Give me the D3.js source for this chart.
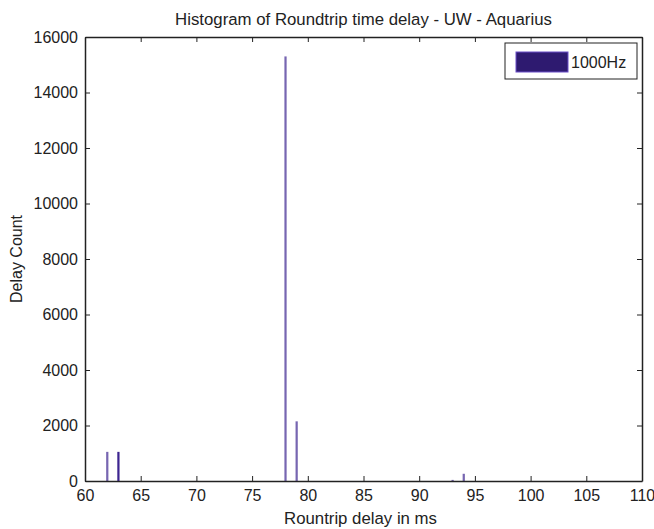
<!DOCTYPE html>
<html>
<head>
<meta charset="utf-8">
<script src="https://cdn.jsdelivr.net/npm/d3@7"></script>
<style>
  body { margin: 0; background: #fff; }
  text { font-family: "Liberation Sans", Arial, sans-serif; fill: #222; }
</style>
</head>
<body>
<div id="chart"></div>
<script>
// histogram bins (ms) and counts
const delays = [62, 63, 78, 79, 93, 94];
const counts = [1050, 1050, 15300, 2150, 40, 260];
const xTicks = [60, 65, 70, 75, 80, 85, 90, 95, 100, 105, 110];
const yTicks = [0, 2000, 4000, 6000, 8000, 10000, 12000, 14000, 16000];
const seriesName = "1000Hz";

const W = 654, H = 529;
const margin = { left: 85, right: 12, top: 37, bottom: 48 };
const width = W - margin.left - margin.right;
const height = H - margin.top - margin.bottom;

const svg = d3.select("#chart").append("svg")
  .attr("width", W)
  .attr("height", H);

const g = svg.append("g")
  .attr("transform", `translate(${margin.left},${margin.top})`);

const x = d3.scaleLinear().domain([60, 110]).range([0, width]);
const y = d3.scaleLinear().domain([0, 16000]).range([height, 0]);

const barColor = "#3d2590";
const barW = x(60.2) - x(60);

// bars
g.selectAll(".bar")
  .data(delays)
  .enter()
  .append("rect")
    .attr("x", (d) => x(d) - barW / 2)
    .attr("y", (d, i) => y(counts[i]))
    .attr("width", barW)
    .attr("height", (d, i) => height - y(counts[i]))
    .attr("fill", barColor)
    .attr("fill-opacity", (d, i) => i === 1 ? 1 : 0.7);

// axes with inward ticks, mirrored on top/right
const tickLen = 5;
const fmt = d3.format("d");
const xAxis = d3.axisBottom(x).tickValues(xTicks).tickFormat(fmt).tickSizeInner(-tickLen).tickSizeOuter(0).tickPadding(9);
const yAxis = d3.axisLeft(y).tickValues(yTicks).tickFormat(fmt).tickSizeInner(-tickLen).tickSizeOuter(0).tickPadding(7);

g.append("g")
  .attr("transform", `translate(0,${height})`)
  .call(xAxis)
  .call(a => a.selectAll("text").attr("font-size", 16).style("font-family", null));

g.append("g")
  .call(yAxis)
  .call(a => a.selectAll("text").attr("font-size", 16).style("font-family", null));

g.append("g")
  .call(d3.axisTop(x).tickValues(xTicks).tickFormat("").tickSizeInner(-tickLen).tickSizeOuter(0));

g.append("g")
  .attr("transform", `translate(${width},0)`)
  .call(d3.axisRight(y).tickValues(yTicks).tickFormat("").tickSizeInner(-tickLen).tickSizeOuter(0));

g.selectAll(".domain").attr("stroke", "#222").attr("stroke-width", 1.5);
g.selectAll(".tick line").attr("stroke", "#222");

// title and labels
svg.append("text")
  .attr("x", margin.left + width / 2)
  .attr("y", 25)
  .attr("text-anchor", "middle")
  .attr("font-size", 16.8)
  .text("Histogram of Roundtrip time delay - UW - Aquarius");

svg.append("text")
  .attr("x", margin.left + width / 2 - 3)
  .attr("y", 524)
  .attr("text-anchor", "middle")
  .attr("font-size", 16.8)
  .text("Rountrip delay in ms");

svg.append("text")
  .attr("transform", `translate(22,${margin.top + height / 2}) rotate(-90)`)
  .attr("text-anchor", "middle")
  .attr("font-size", 16)
  .text("Delay Count");

// legend
const legend = svg.append("g").attr("transform", "translate(505,43)");
legend.append("rect")
  .attr("width", 132).attr("height", 36)
  .attr("fill", "#fff").attr("stroke", "#222").attr("stroke-width", 1);
legend.append("rect")
  .attr("x", 11).attr("y", 9).attr("width", 52).attr("height", 20)
  .attr("fill", "#2e1a70").attr("stroke", "#6b4fc8");
legend.append("text")
  .attr("x", 66).attr("y", 25)
  .attr("font-size", 16)
  .text(seriesName);
</script>
</body>
</html>
